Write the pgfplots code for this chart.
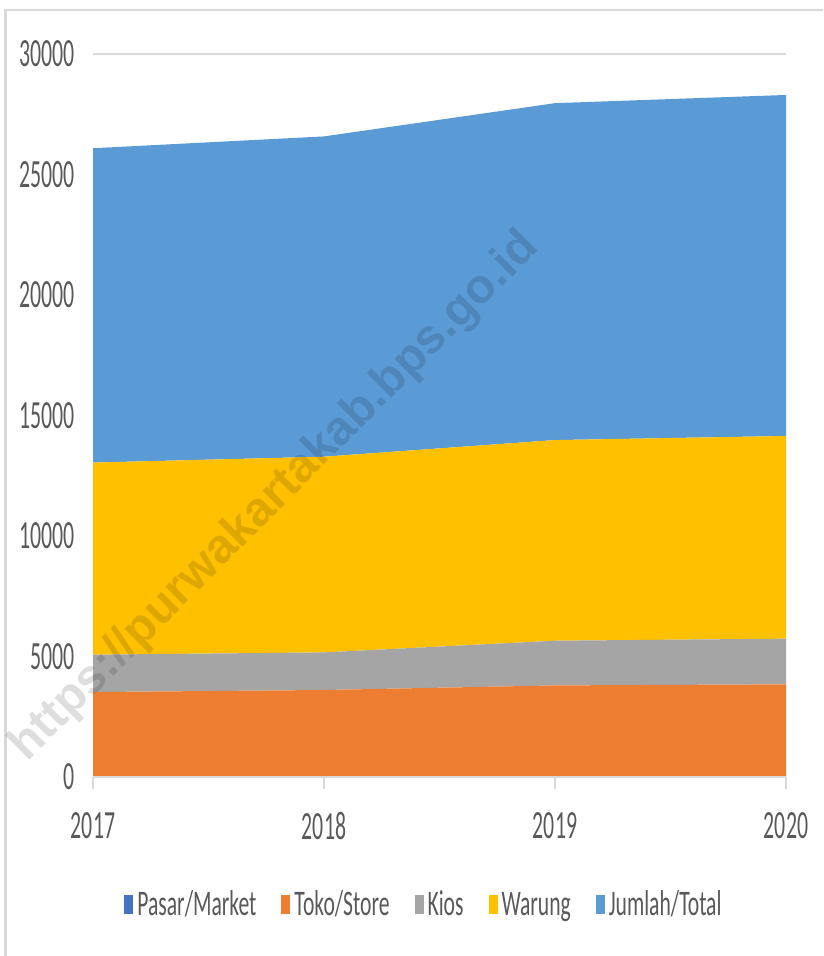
\documentclass[border=0pt]{standalone}
\usepackage{pgfplots}
\pgfplotsset{compat=1.18}
\usepackage{fontspec}
\setmainfont{Carlito}
\newfontfamily\wmfont{Liberation Sans}
\definecolor{cPasar}{HTML}{4472C4}
\definecolor{cToko}{HTML}{ED7D31}
\definecolor{cKios}{HTML}{A5A5A5}
\definecolor{cWarung}{HTML}{FFC000}
\definecolor{cTotal}{HTML}{5B9BD5}
\definecolor{textgray}{HTML}{595959}
\definecolor{gridgray}{HTML}{D9D9D9}
\newcommand\sqz[1]{\scalebox{0.546}[1]{#1}}
\newcommand\lgq[1]{\scalebox{0.6}[1]{#1}}
\begin{document}
\begin{tikzpicture}
\useasboundingbox (0pt,0pt) rectangle (411.5pt,478pt);
\draw[gridgray, line width=1.2pt] (2.75pt,0pt) -- (2.75pt,473pt) -- (411.5pt,473pt);
\begin{axis}[
  at={(46.5pt,89.5pt)}, anchor=south west,
  scale only axis, width=346.5pt, height=361.5pt,
  xmin=2017, xmax=2020, ymin=0, ymax=30000,
  scaled y ticks=false, scaled x ticks=false,
  stack plots=y, area style,
  legend image code/.code={\fill[#1] (0pt,-4.75pt) rectangle (4.5pt,4.75pt);},
  separate axis lines,
  axis x line*=bottom, axis y line*=left,
  x axis line style={gridgray, line width=1pt, -},
  y axis line style={draw=none},
  xtick={2017,2018,2019,2020},
  xticklabels={\sqz{2017},\sqz{2018},\sqz{2019},\sqz{2020}},
  ytick={0,5000,10000,15000,20000,25000,30000},
  yticklabels={\sqz{0},\sqz{5000},\sqz{10000},\sqz{15000},\sqz{20000},\sqz{25000},\sqz{30000}},
  extra y ticks={30000}, extra y tick labels={},
  extra y tick style={ymajorgrids=true, grid style={gridgray, line width=1.2pt}},
  ticklabel style={font=\fontsize{20}{20}\selectfont, text=textgray},
  yticklabel style={xshift=0.5pt},
  xticklabel style={yshift=-8pt},
  x tick style={gridgray, line width=0.8pt},
  y tick style={draw=none},
  major tick length=6pt, tick align=outside,
  legend style={at={(0.479,-0.177)}, anchor=center, draw=none, fill=none,
    legend columns=-1, font=\fontsize{18}{18}\selectfont, text=textgray,
    /tikz/every even column/.append style={column sep=10.5pt},
    inner sep=0pt},
  legend cell align=left,
]
\addplot[fill=cPasar, draw=none] coordinates {(2017,15) (2018,15) (2019,15) (2020,15)} \closedcycle;
\addplot[fill=cToko, draw=none] coordinates {(2017,3510) (2018,3595) (2019,3785) (2020,3830)} \closedcycle;
\addplot[fill=cKios, draw=none] coordinates {(2017,1550) (2018,1560) (2019,1855) (2020,1895)} \closedcycle;
\addplot[fill=cWarung, draw=none] coordinates {(2017,7970) (2018,8120) (2019,8325) (2020,8410)} \closedcycle;
\addplot[fill=cTotal, draw=none] coordinates {(2017,13045) (2018,13290) (2019,13980) (2020,14150)} \closedcycle;
\legend{\lgq{Pasar/Market},\lgq{Toko/Store},\lgq{Kios},\lgq{Warung},\lgq{Jumlah/Total}}
\end{axis}
\node[rotate=45, opacity=0.13, text=black, font=\wmfont\bfseries\fontsize{24}{24}\selectfont] at (137.5pt,229.5pt) {https://purwakartakab.bps.go.id};
\end{tikzpicture}
\end{document}
